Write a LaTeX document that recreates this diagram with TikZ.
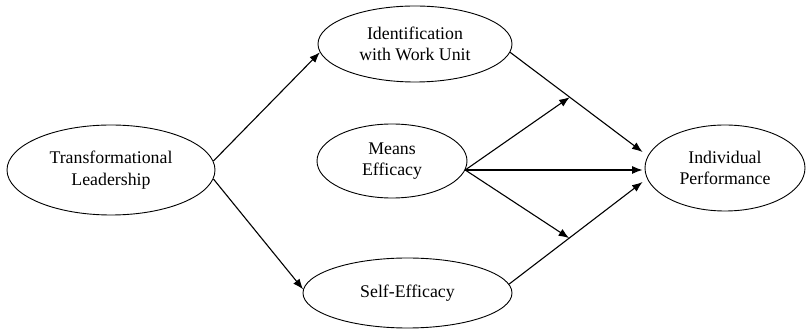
\documentclass[tikz,border=0pt]{standalone}
\usepackage{fontspec}
\setmainfont{Liberation Serif}
\usetikzlibrary{shapes.geometric,arrows.meta,calc}

\begin{document}
\begin{tikzpicture}[x=1pt,y=1pt,
  construct/.style={draw=black, line width=0.9pt, ellipse, inner sep=0pt,
    align=center, font=\fontsize{17.8}{21.5}\selectfont},
  path/.style={draw=black, line width=1.1pt,
    -{Latex[length=10.5pt,width=8pt]}}]
\useasboundingbox (0,0) rectangle (807,332);

% latent constructs
\node[construct, minimum width=208pt, minimum height=90pt] (tl) at (111,162)
  {Transformational\\Leadership};
\node[construct, minimum width=194pt, minimum height=76pt] (id) at (415,288)
  {Identification\\with Work Unit};
\node[construct, minimum width=150pt, minimum height=74pt] (me) at (392,171)
  {Means\\Efficacy};
\node[construct, minimum width=209pt, minimum height=70pt] (se) at (407.5,39)
  {Self-Efficacy};
\node[construct, minimum width=160pt, minimum height=86pt] (ip) at (725,164)
  {Individual\\Performance};

% common origin of the Means Efficacy paths
\coordinate (meo) at (me.-7);

% arrow targets beside the outcome
\coordinate (ipA) at ($(ip.west)+(-2,16)$);
\coordinate (ipB) at ($(meo -| ip.west)+(-2,0)$);
\coordinate (ipC) at ($(ip.west)+(-2,-14)$);

% moderation targets on the mediator paths
\coordinate (m1) at ($(id.-5)!0.45!(ipA)$);
\coordinate (m2) at ($(se.5)!0.45!(ipC)$);

% direct paths
\draw[path] (tl.5) -- (id.185);
\draw[path] (tl.-5) -- (se.178);
\draw[path] (id.-5) -- (ipA);
\draw[path] (se.5) -- (ipC);
\draw[path] (meo) -- (ipB);

% moderating paths
\draw[path] (meo) -- (m1);
\draw[path] (meo) -- (m2);
\end{tikzpicture}
\end{document}
